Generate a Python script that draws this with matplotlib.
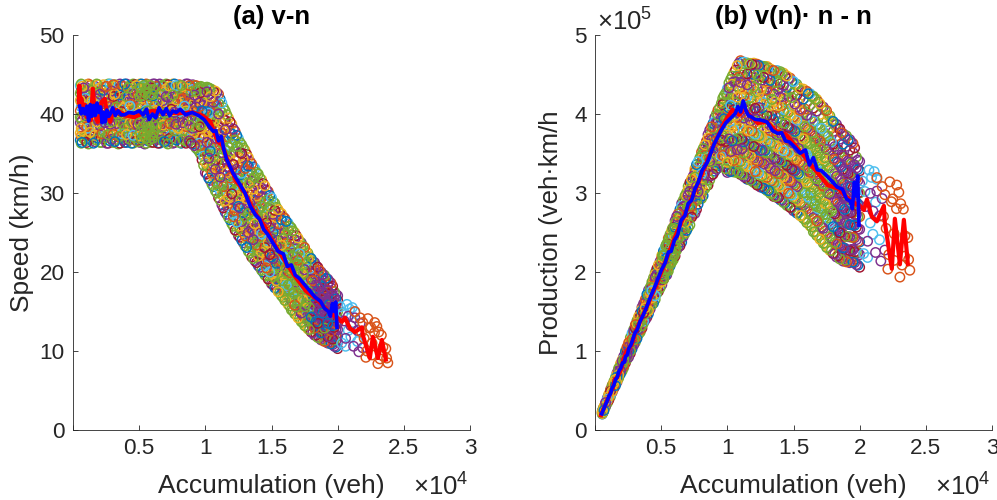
import matplotlib
matplotlib.use("Agg")
import matplotlib.pyplot as plt

plt.rcParams['font.family'] = ['Liberation Sans', 'DejaVu Sans']
plt.rcParams['mathtext.fontset'] = 'custom'
plt.rcParams['mathtext.rm'] = 'Liberation Sans'

# columns of rings, accumulation in veh, speed in km/h
body_acc = [550, 620, 800, 1040, 1300, 1550, 1790, 2050, 2300, 2540,
            2800, 3050, 3290, 3550, 3800, 4040, 4300, 4550, 4790, 5050,
            5300, 5540, 5800, 6050, 6290, 6550, 6800, 7040, 7300, 7550,
            7790, 8050, 8300, 8540, 8800, 9050, 9290, 9550]
body_speed = [
    [36.7, 37.6, 38.9, 39.6, 40.4, 41.7, 42.6, 43.6],
    [36.3, 37.2, 38.2, 39.4, 40.9, 41.9, 42.9, 43.8],
    [36.9, 37.9, 38.6, 39.9, 41.1, 42.2, 43.3],
    [36.4, 37.3, 38.4, 39.3, 40.6, 41.5, 42.5, 43.7],
    [36.8, 37.7, 38.8, 40.0, 40.9, 42.0, 43.0, 43.6],
    [36.3, 37.4, 38.3, 39.5, 40.3, 41.3, 42.4, 43.4],
    [36.7, 38.1, 39.0, 40.1, 41.1, 41.9, 42.8, 43.8],
    [36.4, 37.3, 38.5, 39.4, 40.5, 41.6, 42.5, 43.3],
    [36.9, 37.8, 38.9, 39.8, 40.8, 42.1, 43.0, 43.7],
    [36.3, 37.2, 38.2, 39.3, 40.3, 41.4, 42.4, 43.5],
    [36.6, 37.6, 38.7, 39.7, 41.0, 41.8, 42.8, 43.8],
    [36.4, 37.4, 38.4, 39.2, 40.4, 41.3, 42.2, 43.3, 43.7],
    [36.8, 37.9, 38.8, 39.9, 40.9, 41.9, 42.9, 43.6],
    [36.3, 37.2, 38.3, 39.4, 40.2, 41.5, 42.4, 43.2, 43.8],
    [36.7, 37.7, 38.7, 39.7, 40.7, 41.8, 42.7, 43.5],
    [36.4, 37.4, 38.2, 39.1, 40.4, 41.2, 42.2, 43.1, 43.8],
    [36.8, 37.8, 38.9, 39.8, 41.0, 41.9, 42.9, 43.6],
    [36.3, 37.3, 38.4, 39.3, 40.3, 41.4, 42.5, 43.3, 43.8],
    [36.6, 37.6, 38.6, 39.6, 40.8, 41.7, 42.7, 43.6],
    [36.4, 37.2, 38.1, 39.2, 40.2, 41.2, 42.2, 43.2, 43.8],
    [36.9, 37.9, 38.8, 39.9, 40.9, 42.0, 42.9, 43.5],
    [36.3, 37.4, 38.3, 39.4, 40.5, 41.5, 42.4, 43.3, 43.8],
    [36.7, 37.7, 38.7, 39.8, 40.7, 41.8, 42.8, 43.6],
    [36.4, 37.3, 38.2, 39.2, 40.3, 41.3, 42.3, 43.2, 43.8],
    [36.8, 37.8, 38.9, 39.7, 40.9, 41.9, 42.8, 43.5],
    [36.3, 37.2, 38.4, 39.3, 40.4, 41.4, 42.5, 43.3, 43.8],
    [36.6, 37.6, 38.6, 39.8, 40.8, 41.7, 42.7, 43.6],
    [36.4, 37.4, 38.2, 39.2, 40.2, 41.2, 42.2, 43.2, 43.8],
    [36.9, 37.8, 38.8, 39.9, 40.9, 42.0, 42.9, 43.5],
    [36.3, 37.3, 38.3, 39.4, 40.4, 41.5, 42.4, 43.3, 43.8],
    [36.7, 37.7, 38.7, 39.7, 40.7, 41.8, 42.8, 43.6],
    [36.4, 37.2, 38.2, 39.2, 40.3, 41.3, 42.2, 43.2, 43.7],
    [36.8, 37.9, 38.9, 39.8, 40.9, 41.9, 42.9, 43.5],
    [36.3, 37.4, 38.4, 39.3, 40.4, 41.4, 42.4, 43.3, 43.8],
    [36.6, 37.6, 38.6, 39.7, 40.7, 41.7, 42.7, 43.6],
    [36.2, 37.2, 38.2, 39.2, 40.3, 41.2, 42.2, 43.1, 43.7],
    [35.7, 36.8, 37.8, 38.9, 39.8, 40.9, 41.9, 42.9, 43.6],
    [35.2, 36.3, 37.3, 38.4, 39.4, 40.4, 41.4, 42.4, 43.3],
]
slope_acc = [9750, 10000, 10250, 10500, 10750, 11000, 11250, 11500, 11750, 12000,
             12250, 12500, 12750, 13000, 13250, 13500, 13750, 14000, 14250, 14500,
             14750, 15000, 15250, 15500, 15750, 16000, 16250, 16500, 16750, 17000,
             17250, 17500, 17750, 18000, 18250, 18500, 18750, 19000, 19250, 19500,
             19750, 20000]
slope_speed = [
    [34.2, 35.4, 36.3, 37.4, 38.2, 39.5, 40.4, 41.6, 42.5, 43.4],
    [32.6, 33.9, 35.1, 36.0, 37.3, 38.4, 39.4, 40.6, 41.7, 42.5, 43.2],
    [31.9, 33.2, 34.4, 35.7, 36.6, 37.8, 39.0, 40.1, 41.1, 42.4, 43.3],
    [31.1, 32.5, 33.6, 34.9, 36.2, 37.3, 38.6, 39.7, 40.9, 42.0, 43.1],
    [30.3, 31.6, 33.0, 34.2, 35.4, 36.8, 37.9, 39.2, 40.5, 41.7, 42.9],
    [29.4, 30.9, 32.1, 33.5, 34.8, 36.0, 37.4, 38.6, 40.0, 41.3, 42.5],
    [28.5, 29.8, 31.2, 32.4, 33.7, 35.1, 36.4, 37.6, 38.9, 40.2, 41.4],
    [27.6, 29.0, 30.2, 31.5, 32.9, 34.1, 35.5, 36.7, 38.0, 39.2, 40.4],
    [26.9, 28.1, 29.5, 30.7, 32.0, 33.3, 34.5, 35.8, 37.0, 38.4, 39.5],
    [26.1, 27.4, 28.6, 29.9, 31.2, 32.4, 33.7, 35.0, 36.2, 37.5, 38.7],
    [25.3, 26.6, 27.8, 29.1, 30.3, 31.6, 32.9, 34.1, 35.3, 36.7, 37.8],
    [24.6, 25.8, 27.1, 28.3, 29.6, 30.8, 32.0, 33.3, 34.5, 35.8, 36.9],
    [24.0, 25.1, 26.4, 27.6, 28.9, 30.1, 31.2, 32.5, 33.7, 35.0, 36.1],
    [23.3, 24.6, 25.8, 27.0, 28.1, 29.4, 30.6, 31.8, 33.1, 34.3, 35.4],
    [22.6, 23.8, 25.0, 26.3, 27.4, 28.6, 29.9, 31.0, 32.3, 33.4, 34.5],
    [21.9, 23.2, 24.3, 25.5, 26.7, 27.9, 29.1, 30.3, 31.5, 32.6, 33.7],
    [21.4, 22.5, 23.7, 24.9, 26.1, 27.2, 28.4, 29.7, 30.8, 32.0, 33.1],
    [20.8, 22.0, 23.1, 24.3, 25.5, 26.6, 27.8, 29.0, 30.1, 31.3, 32.4],
    [20.2, 21.4, 22.5, 23.7, 24.8, 26.0, 27.1, 28.3, 29.4, 30.6, 31.7],
    [19.6, 20.8, 21.9, 23.1, 24.2, 25.4, 26.5, 27.7, 28.8, 29.9, 30.9],
    [19.1, 20.2, 21.4, 22.5, 23.7, 24.7, 25.9, 27.0, 28.1, 29.2, 30.2],
    [18.5, 19.7, 20.8, 21.9, 23.0, 24.2, 25.2, 26.4, 27.5, 28.5, 29.4],
    [18.0, 19.1, 20.2, 21.4, 22.4, 23.5, 24.7, 25.7, 26.8, 27.8, 28.7],
    [17.5, 18.6, 19.7, 20.8, 21.9, 22.9, 24.0, 25.1, 26.1, 27.1, 27.9],
    [17.0, 18.1, 19.1, 20.2, 21.3, 22.3, 23.4, 24.5, 25.5, 26.6, 27.4],
    [16.4, 17.5, 18.6, 19.6, 20.7, 21.8, 22.8, 23.9, 24.9, 25.9, 26.8],
    [15.9, 17.0, 18.0, 19.1, 20.1, 21.2, 22.3, 23.3, 24.3, 25.3, 26.2],
    [15.2, 16.3, 17.4, 18.5, 19.6, 20.6, 21.7, 22.7, 23.7, 24.7, 25.6],
    [14.7, 15.8, 16.9, 17.9, 19.0, 20.0, 21.1, 22.1, 23.1, 24.1, 25.0],
    [14.2, 15.3, 16.3, 17.3, 18.4, 19.4, 20.5, 21.5, 22.5, 23.5, 24.3],
    [13.7, 14.8, 15.8, 16.8, 17.9, 18.9, 19.9, 20.9, 21.9, 22.9, 23.7],
    [13.2, 14.2, 15.3, 16.3, 17.3, 18.3, 19.4, 20.3, 21.3, 22.3, 23.1],
    [12.8, 13.8, 14.8, 15.8, 16.8, 17.8, 18.7, 19.7, 20.6, 21.6, 22.4],
    [12.4, 13.4, 14.3, 15.3, 16.2, 17.2, 18.2, 19.1, 20.1, 21.0, 21.7],
    [12.0, 12.9, 13.9, 14.8, 15.8, 16.7, 17.6, 18.6, 19.5, 20.4, 21.2],
    [11.7, 12.6, 13.5, 14.4, 15.4, 16.3, 17.2, 18.1, 19.0, 19.9, 20.6],
    [11.4, 12.3, 13.2, 14.1, 15.0, 15.9, 16.7, 17.6, 18.5, 19.3, 20.0],
    [11.2, 12.0, 12.9, 13.8, 14.6, 15.5, 16.3, 17.2, 18.0, 18.9, 19.6],
    [11.0, 11.8, 12.7, 13.5, 14.3, 15.2, 16.0, 16.8, 17.6, 18.4, 19.1],
    [10.9, 11.7, 12.5, 13.3, 14.1, 14.9, 15.7, 16.5, 17.2, 18.0, 18.6],
    [10.6, 11.4, 12.2, 13.0, 13.8, 14.6, 15.3, 16.1, 16.8, 17.5],
    [10.3, 11.1, 11.9, 12.7, 13.5, 14.2, 15.0, 15.6, 16.4, 17.0],
]

# second pass over the same bands, the reference is far denser than one pass
fill_acc = [680, 930, 1170, 1430, 1660, 1920, 2170, 2420, 2670, 2930,
            3170, 3420, 3670, 3920, 4170, 4420, 4670, 4920, 5170, 5420,
            5670, 5920, 6170, 6420, 6670, 6920, 7170, 7420, 7670, 7920,
            8170, 8420, 8670, 8920, 9170, 9420, 9650,
            9870, 10120, 10370, 10620, 10870, 11120, 11370, 11620, 11870, 12120,
            12370, 12620, 12870, 13120, 13370, 13620, 13870, 14120, 14370, 14620,
            14870, 15120, 15370, 15620, 15870, 16120, 16370, 16620, 16870, 17120,
            17370, 17620, 17870, 18120, 18370, 18620, 18870, 19120, 19370, 19620,
            19870]
fill_speed = [
    [36.4, 37.9, 39.1, 41.4, 43.0, 43.5],
    [36.6, 37.4, 39.6, 40.3, 42.0, 43.4],
    [36.2, 38.2, 39.0, 41.6, 42.3, 43.8],
    [37.1, 38.0, 39.7, 40.6, 41.7, 43.2],
    [36.5, 37.3, 38.6, 40.4, 42.7, 43.5],
    [36.9, 38.3, 39.2, 41.2, 42.1, 43.7],
    [36.4, 37.5, 39.9, 40.7, 41.5, 43.0],
    [37.0, 38.1, 38.9, 40.2, 42.6, 43.4],
    [36.3, 37.4, 39.4, 41.0, 42.2, 43.8],
    [36.8, 37.8, 39.0, 40.5, 41.6, 42.9, 43.5],
    [36.5, 38.0, 38.6, 39.7, 41.1, 42.5, 43.7],
    [36.2, 37.1, 38.5, 40.0, 40.8, 42.0, 43.2],
    [36.9, 37.5, 39.2, 40.3, 41.4, 42.8, 43.6],
    [36.4, 38.2, 38.9, 39.6, 41.0, 42.3, 43.8],
    [36.7, 37.3, 38.4, 40.6, 41.7, 42.6, 43.3],
    [36.3, 37.9, 39.3, 40.1, 41.2, 42.9, 43.6],
    [37.0, 38.1, 39.0, 40.5, 41.5, 42.1, 43.7],
    [36.5, 37.4, 38.6, 39.5, 41.3, 42.4, 43.4],
    [36.8, 37.6, 38.5, 39.7, 40.6, 42.7, 43.8],
    [36.2, 37.1, 38.9, 40.2, 41.8, 42.5, 43.5],
    [36.6, 38.0, 39.1, 40.4, 41.1, 42.2, 43.7],
    [36.4, 37.5, 38.4, 39.6, 41.6, 42.9, 43.3],
    [36.9, 37.8, 39.2, 40.7, 41.0, 42.6, 43.8],
    [36.3, 37.2, 38.7, 40.0, 41.5, 42.0, 43.5],
    [36.7, 37.4, 38.3, 39.4, 40.5, 42.4, 43.6],
    [36.5, 38.1, 39.0, 40.1, 41.3, 42.8, 43.4],
    [36.2, 37.6, 38.5, 39.7, 40.8, 42.1, 43.7],
    [36.8, 37.3, 39.3, 40.6, 41.6, 42.5, 43.3],
    [36.4, 37.9, 38.8, 40.2, 41.1, 42.9, 43.8],
    [36.9, 38.2, 39.1, 39.5, 41.4, 42.3, 43.5],
    [36.3, 37.1, 38.6, 40.4, 41.9, 42.7, 43.6],
    [36.7, 37.5, 38.9, 40.0, 41.0, 42.0, 43.4],
    [36.5, 38.0, 39.2, 40.6, 41.5, 42.5, 43.8],
    [36.3, 37.3, 38.4, 39.6, 41.2, 42.8, 43.5],
    [36.0, 37.7, 38.8, 40.3, 41.6, 42.4, 43.6],
    [35.5, 36.6, 38.1, 39.2, 40.6, 42.1, 43.3],
    [34.9, 36.0, 37.1, 38.6, 40.0, 41.3, 42.7, 43.5],
    [33.5, 34.7, 36.1, 37.0, 38.6, 39.9, 41.1, 42.2, 43.2],
    [32.4, 33.4, 34.8, 36.4, 37.7, 38.9, 40.3, 41.4, 42.8, 43.4],
    [31.6, 33.0, 34.1, 35.3, 37.1, 38.2, 39.4, 41.0, 42.2, 43.2],
    [30.8, 32.1, 33.5, 34.6, 36.3, 37.5, 39.0, 40.2, 41.5, 42.9],
    [30.0, 31.2, 32.6, 34.0, 35.6, 36.9, 38.1, 39.8, 41.1, 42.7],
    [29.1, 30.3, 32.0, 33.1, 34.4, 36.1, 37.3, 38.9, 40.4, 41.9],
    [28.1, 29.6, 30.8, 32.3, 33.8, 35.0, 36.6, 37.9, 39.3, 40.8],
    [27.3, 28.5, 30.0, 31.1, 32.6, 34.2, 35.3, 37.1, 38.4, 39.9],
    [26.6, 27.9, 29.2, 30.5, 31.9, 33.0, 34.8, 36.0, 37.6, 39.0],
    [25.8, 27.0, 28.3, 29.7, 30.9, 32.5, 33.6, 35.3, 36.8, 38.1],
    [25.1, 26.3, 27.5, 29.0, 30.1, 31.8, 33.0, 34.4, 35.9, 37.3],
    [24.4, 25.5, 26.9, 28.1, 29.4, 30.9, 32.3, 33.5, 35.1, 36.4],
    [23.7, 25.0, 26.1, 27.5, 28.6, 30.2, 31.5, 32.9, 34.2, 35.7],
    [23.1, 24.2, 25.5, 26.7, 28.0, 29.3, 30.8, 32.0, 33.5, 34.9],
    [22.4, 23.6, 24.7, 26.1, 27.1, 28.7, 29.8, 31.3, 32.7, 34.0],
    [21.7, 23.0, 24.1, 25.2, 26.5, 27.8, 29.2, 30.5, 31.9, 33.3],
    [21.2, 22.3, 23.4, 24.6, 25.9, 27.0, 28.5, 29.6, 31.1, 32.6],
    [20.6, 21.7, 22.9, 24.0, 25.1, 26.4, 27.6, 29.1, 30.4, 31.9],
    [20.0, 21.2, 22.2, 23.4, 24.5, 25.7, 27.0, 28.2, 29.6, 31.2],
    [19.5, 20.5, 21.7, 22.8, 24.0, 25.1, 26.2, 27.5, 28.9, 30.4],
    [18.9, 20.0, 21.1, 22.2, 23.3, 24.5, 25.6, 26.8, 28.3, 29.7],
    [18.4, 19.4, 20.5, 21.7, 22.7, 23.9, 25.0, 26.1, 27.3, 28.9],
    [17.9, 18.9, 20.0, 21.1, 22.1, 23.2, 24.4, 25.5, 26.9, 28.2],
    [17.4, 18.4, 19.4, 20.5, 21.6, 22.6, 23.7, 24.8, 26.0, 27.5],
    [16.8, 17.8, 18.9, 20.0, 20.9, 22.0, 23.2, 24.2, 25.6, 27.0],
    [16.3, 17.2, 18.3, 19.4, 20.4, 21.5, 22.5, 23.6, 24.7, 26.4],
    [15.7, 16.7, 17.7, 18.8, 19.9, 20.9, 22.0, 23.0, 24.1, 25.8],
    [15.1, 16.1, 17.2, 18.2, 19.2, 20.3, 21.4, 22.4, 23.5, 25.2],
    [14.6, 15.6, 16.6, 17.6, 18.7, 19.7, 20.8, 21.8, 22.9, 24.6],
    [14.1, 15.0, 16.1, 17.1, 18.1, 19.1, 20.2, 21.2, 22.3, 23.9],
    [13.6, 14.5, 15.5, 16.5, 17.6, 18.6, 19.6, 20.6, 21.6, 23.3],
    [13.1, 14.1, 15.1, 16.0, 17.0, 18.0, 19.0, 20.0, 21.1, 22.6],
    [12.7, 13.6, 14.6, 15.5, 16.5, 17.5, 18.4, 19.4, 20.4, 21.9],
    [12.3, 13.1, 14.1, 15.1, 16.0, 17.0, 17.9, 18.9, 19.8, 21.3],
    [12.0, 12.8, 13.7, 14.6, 15.6, 16.5, 17.4, 18.4, 19.3, 20.8],
    [11.7, 12.5, 13.4, 14.2, 15.2, 16.1, 17.0, 17.9, 18.7, 20.2],
    [11.4, 12.2, 13.0, 13.9, 14.8, 15.7, 16.5, 17.4, 18.3, 19.7],
    [11.2, 11.9, 12.8, 13.6, 14.4, 15.3, 16.1, 17.0, 17.8, 19.2],
    [11.0, 11.8, 12.6, 13.4, 14.2, 15.0, 15.9, 16.7, 17.4, 18.8],
    [10.8, 11.5, 12.4, 13.2, 13.9, 14.7, 15.5, 16.3, 17.1, 18.2],
    [10.5, 11.3, 12.0, 12.8, 13.6, 14.4, 15.1, 15.9, 16.6, 17.2],
]

# the sparse tail past 2e4, one list per colour
tail_cyan_acc = [20200, 20400, 20300, 20700, 20900, 20600, 21100, 21300, 21000, 21500, 20800, 21200]
tail_cyan_speed = [15.6, 14.8, 11.0, 15.9, 15.3, 10.6, 15.5, 14.9, 11.8, 11.2, 12.6, 13.6]
tail_purple_acc = [20500, 20800, 21000, 21300, 21500, 21700, 21900, 21200, 21600, 20600]
tail_purple_speed = [13.8, 14.4, 13.2, 14.2, 12.6, 13.5, 10.4, 10.6, 9.9, 11.6]
tail_orange_acc = [21300, 21700, 21900, 22130, 22280, 22500, 22800, 22960, 23100, 23420, 23640, 23790,
                   22000, 22200, 22400, 22600, 22780, 23040, 23200, 23400, 23700, 21800, 22600, 23300]
tail_orange_speed = [15.0, 14.2, 13.6, 9.2, 14.1, 13.0, 13.6, 13.1, 12.4, 10.5, 10.3, 8.5,
                     11.6, 10.0, 12.9, 9.5, 12.3, 8.4, 9.0, 9.4, 9.1, 12.4, 11.0, 12.0]

# dense green patches
clump_acc = [5100, 5350, 5600, 5850, 6100, 5200, 5500, 5750, 6000, 5050, 5300, 5550, 5800, 6050, 6300,
             5100, 5350, 5600, 5850, 6100, 5200, 5500, 5750, 6000, 16300, 16700, 17100, 17500, 16500,
             16900, 17300, 17700, 16100, 16600, 17000, 17400]
clump_speed = [43.3, 43.6, 43.2, 43.6, 43.1, 42.4, 42.6, 42.3, 42.5, 38.9, 38.4, 38.8, 38.3, 38.8, 38.4,
               37.7, 37.4, 37.8, 37.3, 37.7, 36.8, 36.9, 36.7, 36.9, 18.4, 17.4, 16.4, 15.6, 20.1,
               19.0, 18.0, 17.0, 20.6, 22.0, 21.0, 19.8]

# mean lines, red runs the whole range, blue stops at 2e4
red_acc = [450, 480, 520, 620, 760, 900, 1040, 1200, 1350, 1500, 1650, 1850, 2000, 2150, 2400, 2600, 2800,
           3100, 3500, 4000, 4600, 5200, 6000, 7000, 8000, 9000, 9800, 10400, 10900, 11300, 11700, 12300,
           13000, 13700, 14400, 15200, 16000, 16800, 17600, 18400, 19200, 19800, 19940, 20320, 20550, 20920,
           21300, 21830, 21900, 22430, 22660, 23040, 23340, 23640]
red_speed = [41.5, 43.6, 41.0, 42.0, 40.6, 41.2, 39.6, 40.8, 39.2, 43.2, 40.0, 39.0, 39.2, 41.5, 41.9, 39.8, 39.0,
             40.6, 40.3, 39.8, 39.6, 40.0, 40.4, 40.2, 40.1, 40.2, 39.8, 39.0, 36.6, 36.0, 34.0, 31.6,
             30.0, 27.6, 26.0, 23.6, 21.4, 19.4, 17.6, 16.6, 15.2, 14.4, 14.3, 13.7, 14.2, 12.9,
             12.4, 13.0, 12.0, 9.1, 11.8, 9.1, 11.4, 8.9]
blue_acc = [500, 620, 760, 900, 1050, 1180, 1300, 1420, 1560, 1680, 1820, 1950, 2080, 2200, 2320, 2440, 2560,
            2700, 2850, 3000, 3200, 3400, 3650, 3900, 4200, 4600, 5000, 5300, 5550, 5750, 6000, 6250, 6500,
            6800, 7050, 7300, 7550, 7800, 8100, 8500, 9000, 9500, 9900, 10300, 10600, 10800, 11000, 11200,
            11400, 11600, 11800, 12100, 12500, 13000, 13400, 13800, 14100, 14400, 14700, 15100, 15500, 15900,
            16200, 16500, 16800, 17100, 17500, 17900, 18300, 18700, 19000, 19300, 19450, 19600, 19750, 19850,
            19950]
blue_speed = [41.0, 40.0, 40.7, 40.0, 41.0, 39.1, 41.2, 39.7, 41.1, 39.8, 41.4, 40.2, 40.9, 38.9, 40.2, 39.0, 40.5,
              39.7, 40.1, 40.8, 39.8, 40.4, 39.9, 39.9, 40.2, 40.1, 40.4, 39.9, 40.6, 39.3, 40.0, 39.5, 40.8,
              39.9, 40.7, 39.8, 40.4, 40.2, 40.6, 39.9, 40.2, 39.8, 39.3, 38.4, 37.8, 37.9, 36.6, 37.2, 35.5,
              34.3, 33.6, 32.5, 31.4, 30.0, 28.3, 27.2, 26.7, 25.4, 24.8, 23.7, 22.6, 22.3, 20.7, 20.9, 19.6,
              19.2, 18.4, 17.6, 16.8, 16.3, 15.4, 15.0, 14.4, 16.0, 15.0, 16.2, 13.0]

speed_ticks = [0, 10, 20, 30, 40, 50]
prod_ticks = [0, 100000, 200000, 300000, 400000, 500000]
prod_tick_labels = ['0', '1', '2', '3', '4', '5']
acc_ticks = [0, 5000, 10000, 15000, 20000, 25000, 30000]
acc_tick_labels = ['', '0.5', '1', '1.5', '2', '2.5', '3']

BLUE = '#0072BD'
ORANGE = '#D95319'
YELLOW = '#EDB120'
PURPLE = '#7E2F8E'
GREEN = '#77AC30'
CYAN = '#4DBEEE'
MAROON = '#A2142F'

mix_plain = [BLUE, YELLOW, PURPLE, GREEN, ORANGE, YELLOW, GREEN, CYAN, PURPLE, MAROON, GREEN, ORANGE, PURPLE, YELLOW, GREEN]
mix_green = [GREEN, ORANGE, GREEN, YELLOW, GREEN, CYAN, GREEN, PURPLE, GREEN]
mix_purple = [PURPLE, ORANGE, PURPLE, GREEN, PURPLE, MAROON, PURPLE, BLUE]

# one flat list of rings, colour picked by zone of the band
ring_acc = []
ring_speed = []
ring_color = []
columns = list(zip(body_acc, body_speed)) + list(zip(slope_acc, slope_speed)) + list(zip(fill_acc, fill_speed))
for k, (n, speeds) in enumerate(columns):
    for j, v in enumerate(speeds):
        if n >= 18000:
            mix = mix_purple
        elif n >= 15500 and v < 24:
            mix = mix_green
        else:
            mix = mix_plain
        ring_acc.append(n)
        ring_speed.append(v)
        ring_color.append(mix[(3 * k + j) % len(mix)])

# stride through the rings so no column lies wholly on top of its neighbour
count = len(ring_acc)
stride = 397
draw_idx = [(i * stride) % count for i in range(count)]
ring_acc = [ring_acc[i] for i in draw_idx]
ring_speed = [ring_speed[i] for i in draw_idx]
ring_color = [ring_color[i] for i in draw_idx]


def draw_panel(ax, times_n):
    # panel (b) is v(n) times n, so its rings and lines are the speeds times their own n
    def val(xs, ys):
        return [y * x for x, y in zip(xs, ys)] if times_n else ys

    ax.scatter(ring_acc, val(ring_acc, ring_speed), s=46, facecolors='none',
               edgecolors=ring_color, linewidths=1.05)
    for xs, ys, c in [(clump_acc, clump_speed, GREEN),
                      (tail_cyan_acc, tail_cyan_speed, CYAN),
                      (tail_purple_acc, tail_purple_speed, PURPLE),
                      (tail_orange_acc, tail_orange_speed, ORANGE)]:
        ax.scatter(xs, val(xs, ys), s=46, facecolors='none', edgecolors=c, linewidths=1.05)
    ax.plot(red_acc, val(red_acc, red_speed), color='#FF0000', lw=3.0)
    ax.plot(blue_acc, val(blue_acc, blue_speed), color='#0000FF', lw=2.6)

    ax.set_xlim(0, 30000)
    ax.set_xticks(acc_ticks)
    ax.set_xticklabels(acc_tick_labels)
    ax.spines['top'].set_visible(False)
    ax.spines['right'].set_visible(False)
    for s in ['left', 'bottom']:
        ax.spines[s].set_color('#262626')
        ax.spines[s].set_linewidth(0.6)
    ax.tick_params(direction='in', length=3.5, width=0.6, color='#262626',
                   labelcolor='#262626', labelsize=16.2, pad=6)
    ax.set_xlabel('Accumulation (veh)', fontsize=19, color='#262626', labelpad=10.5)


fig = plt.figure(figsize=(9.97, 5.0), dpi=100)
ax1 = fig.add_axes([73 / 997, 70 / 500, 397 / 997, 395 / 500])
ax2 = fig.add_axes([595 / 997, 70 / 500, 397 / 997, 395 / 500])

draw_panel(ax1, False)
ax1.set_ylim(0, 50)
ax1.set_yticks(speed_ticks)
ax1.set_ylabel('Speed (km/h)', fontsize=19, color='#262626', labelpad=4)
ax1.set_title('(a) v-n', fontsize=18.5, fontweight='bold', pad=8, color='black')

draw_panel(ax2, True)
ax2.set_ylim(0, 500000)
ax2.set_yticks(prod_ticks)
ax2.set_yticklabels(prod_tick_labels)
ax2.set_ylabel('Production (veh\u00b7km/h', fontsize=18.5, color='#262626', labelpad=8)
ax2.set_title('(b) v(n)\u00b7 n - n', fontsize=18.5, fontweight='bold', pad=8, color='black')

fig.text(413 / 997, 1 - 495 / 500, r'$\times\mathregular{10}^{\mathregular{4}}$', fontsize=18.5, color='#262626')
fig.text(935 / 997, 1 - 495 / 500, r'$\times\mathregular{10}^{\mathregular{4}}$', fontsize=18.5, color='#262626')
fig.text(597 / 997, 1 - 30 / 500, r'$\times\mathregular{10}^{\mathregular{5}}$', fontsize=18.5, color='#262626')

fig.savefig('out.png', dpi=100)
